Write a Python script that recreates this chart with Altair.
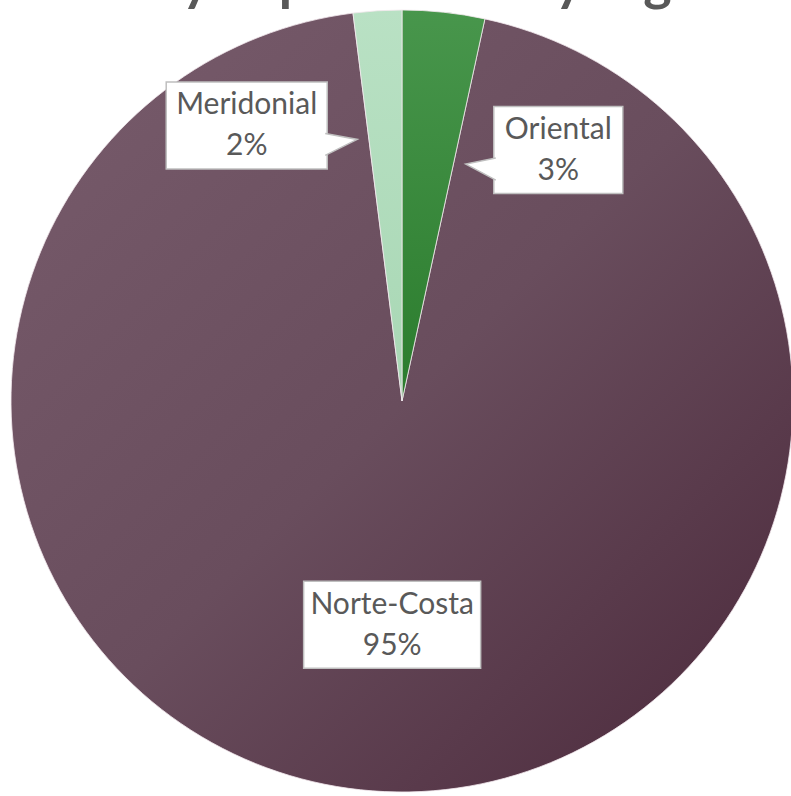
import altair as alt
import pandas as pd

# Regional shares (percent), listed clockwise from 12 o'clock
regions = ["Oriental", "Norte-Costa", "Meridonial"]
shares = [3.4, 94.6, 2.0]
title_text = ["Yearly expenditure by region"]

# Canvas and pie geometry (pixels)
W, H = 791, 796
CX, CY, R = 402, 401, 391

df = pd.DataFrame({"region": regions, "share": shares, "order": range(len(regions))})

# Data units: 1.0 == pie radius, origin at pie centre, y pointing up
xs = alt.Scale(domain=[-CX / R, (W - CX) / R], range=[0, W], nice=False, zero=False)
ys = alt.Scale(domain=[-(H - CY) / R, CY / R], nice=False, zero=False)

base = (
    alt.Chart(df)
    .transform_window(cum="sum(share)", sort=[alt.SortField("order")], frame=[None, 0])
    .transform_joinaggregate(total="sum(share)")
    .transform_calculate(
        end="datum.cum / datum.total * 2 * PI",
        start="(datum.cum - datum.share) / datum.total * 2 * PI",
        cx="0",
        cy="0",
    )
    .transform_calculate(
        mid="(datum.start + datum.end) / 2",
        small="datum.share < 5",
    )
    .transform_calculate(
        side="datum.mid < PI ? 'left' : 'right'",
    )
    .transform_calculate(
        # small slices get their callout swung away from the 12 o'clock seam
        lang="datum.mid + (datum.small ? (datum.side == 'left' ? 1 : -1) * 25.8 * PI / 180 : 0)",
        lrad="datum.small ? (datum.side == 'left' ? 0.756 : 0.809) : 0.573",
    )
    .transform_calculate(
        lx="datum.lrad * sin(datum.lang)",
        ly="datum.lrad * cos(datum.lang)",
        hw="(16 * length(datum.region) + 1) / 2 / %f" % R,
        hh="43.5 / %f" % R,
        label="datum.region + '\\n' + format(round(datum.share), 'd') + '%'",
    )
    .transform_calculate(
        bx1="datum.lx - datum.hw",
        bx2="datum.lx + datum.hw",
        by1="datum.ly - datum.hh",
        by2="datum.ly + datum.hh",
        ax="datum.side == 'left' ? datum.lx - datum.hw : datum.lx + datum.hw",
        ay="datum.ly - 19 / %f" % R,
    )
)

centre = dict(
    x=alt.X("cx:Q", scale=xs, axis=None),
    y=alt.Y("cy:Q", scale=ys, axis=None),
    theta=alt.Theta("start:Q", scale=None),
    theta2="end:Q",
)


def grad(c0, c1, x2=1, y2=1, mid=None):
    stops = [alt.GradientStop(color=c0, offset=0)]
    if mid:
        stops.append(alt.GradientStop(color=mid, offset=0.5))
    stops.append(alt.GradientStop(color=c1, offset=1))
    return alt.Gradient(gradient="linear", stops=stops, x1=0, y1=0, x2=x2, y2=y2)


fills = {
    "Norte-Costa": grad("#785C6C", "#4A283A", mid="#694D5D"),
    "Oriental": grad("#48964C", "#2B7C2D", x2=0, y2=1),
    "Meridonial": grad("#B9E1C4", "#A8D7B4", x2=0, y2=1),
}

slices = [
    base.transform_filter(alt.datum.region == name)
    .mark_arc(radius=R, color=fill, stroke="#F2E8EE", strokeWidth=1, strokeOpacity=0.8)
    .encode(**centre)
    for name, fill in fills.items()
]

boxes = base.mark_rect(fill="white", stroke="#BFBFBF", strokeWidth=1.5).encode(
    x=alt.X("bx1:Q", scale=xs, axis=None),
    x2="bx2:Q",
    y=alt.Y("by1:Q", scale=ys, axis=None),
    y2="by2:Q",
)

# Open-ended triangle pointers (size=4 -> path units are pixels)
pointer_paths = ["M 2 -11 L -28 -5 L 2 11", "M -2 -11 L 30 -5 L -2 11"]
pointers = (
    base.transform_filter("datum.small")
    .mark_point(filled=True, fill="white", stroke="#BFBFBF", strokeWidth=1.5, size=4, opacity=1)
    .encode(
        x=alt.X("ax:Q", scale=xs, axis=None),
        y=alt.Y("ay:Q", scale=ys, axis=None),
        shape=alt.Shape("side:N", scale=alt.Scale(domain=["left", "right"], range=pointer_paths), legend=None),
    )
)

labels = base.mark_text(
    font="Lato", fontSize=30, color="#595959", lineBreak="\n", lineHeight=41,
    align="center", baseline="middle", dy=-20,
).encode(
    x=alt.X("lx:Q", scale=xs, axis=None),
    y=alt.Y("ly:Q", scale=ys, axis=None),
    text="label:N",
)

title = (
    alt.Chart(pd.DataFrame({"t": title_text}))
    .mark_text(font="Lato", fontSize=54, fontWeight="bold", color="#595959",
               align="center", baseline="alphabetic")
    .encode(x=alt.value(405), y=alt.value(0), text="t:N")
)

chart = (
    alt.layer(*slices, boxes, pointers, labels, title)
    .properties(width=W, height=H, padding=0, autosize="none", background="white")
    .configure_view(strokeWidth=0)
)

chart.save("out.html", embed_options={"renderer": "svg", "actions": False})
